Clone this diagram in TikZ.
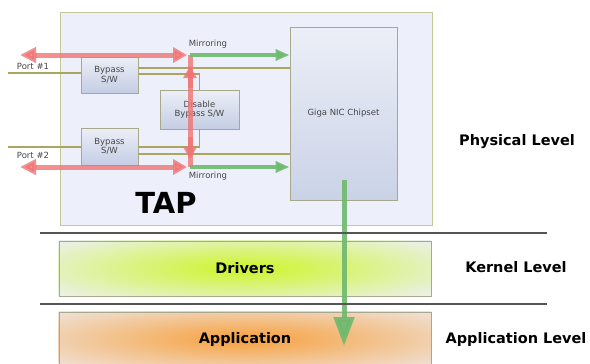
\documentclass[tikz,border=0pt]{standalone}
\usepackage{fontspec}
\setmainfont{DejaVu Sans}
\usetikzlibrary{arrows.meta}
\definecolor{boxfill}{RGB}{237,240,250}
\definecolor{tapedge}{RGB}{196,200,150}
\definecolor{boxedge}{RGB}{168,168,140}
\definecolor{wire}{RGB}{170,165,95}
\definecolor{redflow}{RGB}{240,115,115}
\definecolor{greenflow}{RGB}{110,185,110}
\definecolor{swtop}{RGB}{236,239,247}
\definecolor{swbot}{RGB}{196,205,228}
\definecolor{smalltext}{RGB}{70,70,70}
\definecolor{sepline}{RGB}{85,85,85}
\definecolor{limeglow}{RGB}{205,245,40}
\definecolor{orangeglow}{RGB}{247,160,60}
\tikzset{
  layerbox/.style={draw=boxedge, line width=0.9pt, minimum width=372pt},
  swbox/.style={draw=boxedge, line width=0.9pt, top color=swtop, bottom color=swbot,
    align=center, font=\fontsize{8.5}{9.5}\selectfont, text=smalltext, inner sep=0pt},
  wireline/.style={draw=wire, line width=1.3pt},
  redflowline/.style={draw=redflow, line width=5pt, opacity=0.8},
  redtip/.style={-{Triangle[length=12pt,width=13pt]}},
  greenflowline/.style={draw=greenflow, line width=3.5pt, opacity=0.9,
    -{Triangle[length=14pt,width=11pt]}},
  smalllabel/.style={font=\fontsize{8.5}{9.5}\selectfont, text=smalltext},
  levellabel/.style={font=\fontsize{14.5}{16}\selectfont\bfseries, text=black},
  separator/.style={draw=sepline, line width=1.3pt}
}
\begin{document}
\begin{tikzpicture}[x=1pt,y=-1pt]
\useasboundingbox (0,0) rectangle (590,364);
\clip (0,0) rectangle (590,364);
\fill[white] (0,0) rectangle (590,364);

% TAP enclosure and the NIC chipset
\node[draw=tapedge, line width=1pt, fill=boxfill, minimum width=372pt, minimum height=213pt,
  inner sep=0pt] (tap) at (246,118.5) {};
\node[draw=boxedge, line width=1pt, top color=swtop, bottom color=swbot!90!white,
  minimum width=107pt, minimum height=173pt, inner sep=0pt, smalllabel] (nic) at (343.5,113.5)
  {Giga NIC Chipset};
\node[font=\fontsize{29}{30}\selectfont\bfseries] (taplabel) at (166,202.5) {TAP};

% bypass switches
\node[swbox, minimum width=57pt, minimum height=36pt] (byp1) at (109.5,75) {Bypass\\S/W};
\node[swbox, minimum width=57pt, minimum height=37pt] (byp2) at (109.5,146.5) {Bypass\\S/W};
\node[swbox, minimum width=79pt, minimum height=39pt] (dis) at (199.5,109.5) {Disable\\Bypass S/W};

% helper levels for the wires
\coordinate (y55) at (0,55);
\coordinate (y68) at (0,68);
\coordinate (y74) at (0,74);
\coordinate (y147) at (0,147);
\coordinate (y154) at (0,154);
\coordinate (y167) at (0,167);

% port wires
\coordinate (p1) at (8,73);
\coordinate (p2) at (8,147);
\draw[wireline] (p1) -- (p1 -| byp1.west);
\draw[wireline] (p2) -- (p2 -| byp2.west);
\node[smalllabel] (p1label) at (33,66) {Port \#1};
\node[smalllabel] (p2label) at (33,155) {Port \#2};

% switch wires
\draw[wireline] (byp1.east |- y68) -- (nic.west |- y68);
\draw[wireline] (byp1.east |- y74) -| (dis.north);
\draw[wireline] (dis.south) |- (byp2.east |- y147);
\draw[wireline] (byp2.east |- y154) -- (nic.west |- y154);

% traffic flows
\coordinate (rl1) at (20,55);
\coordinate (rr1) at (187,55);
\coordinate (rl2) at (20,167);
\coordinate (rr2) at (187,167);
\coordinate (mtop) at (190,55);
\coordinate (mbot) at (190,167);
\draw[redflowline, {Triangle[length=16pt,width=15pt]}-{Triangle[length=14pt,width=15pt]}] (rl1) -- (rr1);
\draw[redflowline, {Triangle[length=16pt,width=15pt]}-{Triangle[length=14pt,width=15pt]}] (rl2) -- (rr2);
\draw[redflowline] (mtop) -- (mbot);
\coordinate (vu1) at (190,88);
\coordinate (vu2) at (190,66);
\coordinate (vd1) at (190,137);
\coordinate (vd2) at (190,159);
\draw[redflowline, redtip] (vu1) -- (vu2);
\draw[redflowline, redtip] (vd1) -- (vd2);
\draw[greenflowline] (mtop) -- (nic.west |- y55);
\draw[greenflowline] (mbot) -- (nic.west |- y167);
\node[smalllabel] (mir1) at (208,44) {Mirroring};
\node[smalllabel] (mir2) at (208,176) {Mirroring};

% kernel and application layers
\node[layerbox, fill=boxfill, minimum height=55pt] (drv) at (245,268.5) {};
\begin{scope}
  \clip (drv.south west) rectangle (drv.north east);
  \shade[inner color=limeglow, outer color=boxfill] (245,268.5) ellipse [x radius=265, y radius=44];
\end{scope}
\node[layerbox, minimum height=55pt] (drvedge) at (245,268.5) {};
\node[levellabel] (drvlabel) at (245,268.5) {Drivers};

\node[layerbox, fill=boxfill, minimum height=58pt] (app) at (245,341) {};
\begin{scope}
  \clip (app.south west) rectangle (app.north east);
  \shade[inner color=orangeglow, outer color=boxfill] (245,339) ellipse [x radius=310, y radius=48];
\end{scope}
\node[layerbox, minimum height=58pt] (appedge) at (245,341) {};
\node[levellabel] (applabel) at (245,339) {Application};

% data path from the chipset down to the application
\coordinate (gs) at (344,180);
\coordinate (ge) at (344,346);
\draw[draw=greenflow, line width=5pt, opacity=0.9, -{Triangle[length=29pt,width=20pt]}] (gs) -- (ge);

% level separators and labels
\coordinate (s1l) at (40,233);
\coordinate (s1r) at (547,233);
\coordinate (s2l) at (40,304);
\coordinate (s2r) at (547,304);
\draw[separator] (s1l) -- (s1r);
\draw[separator] (s2l) -- (s2r);
\node[levellabel] (phys) at (517,142) {Physical Level};
\node[levellabel] (kern) at (516,267.5) {Kernel Level};
\node[levellabel] (appl) at (516,339) {Application Level};
\end{tikzpicture}
\end{document}
